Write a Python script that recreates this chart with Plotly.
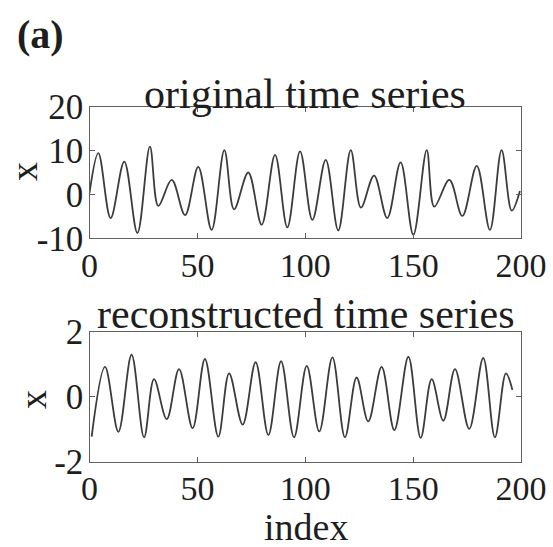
import plotly.graph_objects as go

W, H = 553, 547

# Original time series: turning points (index, value)
orig_index = [0, 4.1, 9.8, 16.1, 22.2, 28.0, 31.9, 38.1, 44.3, 50.4, 56.6, 62.5,
              67.0, 73.6, 79.8, 86.0, 91.7, 97.6, 103.3, 109.5, 115.3, 121.1,
              125.8, 131.9, 138.0, 144.2, 150.1, 156.3, 159.8, 166.8, 172.8,
              179.5, 185.6, 191.0, 195.7, 199.5]
orig_x = [0.3, 9.4, -5.4, 7.5, -8.8, 10.9, -2.6, 3.3, -4.7, 6.3, -8.1, 10.1,
          -3.4, 5.0, -6.9, 9.0, -7.5, 9.8, -5.8, 7.9, -8.2, 10.1,
          -3.0, 4.3, -5.4, 7.3, -9.2, 10.1, -2.8, 3.3, -4.9,
          6.5, -8.1, 10.1, -3.7, 0.8]

# Reconstructed time series: turning points (index, value)
recon_index = [1.0, 7.2, 13.4, 19.5, 25.3, 29.9, 35.8, 41.5, 47.8, 53.5, 59.7,
               64.7, 71.0, 77.0, 82.9, 88.8, 94.8, 100.7, 106.5, 112.6, 118.4,
               123.8, 129.2, 135.4, 141.3, 147.8, 153.5, 158.6, 164.0, 169.4,
               176.0, 182.5, 187.9, 193.0, 196.0]
recon_x = [-1.23, 0.92, -1.08, 1.29, -1.25, 0.54, -0.69, 0.85, -0.97, 1.16, -1.23,
           0.72, -0.86, 1.06, -1.18, 1.09, -1.25, 0.95, -1.07, 1.21, -1.25,
           0.59, -0.76, 0.92, -1.03, 1.23, -1.27, 0.54, -0.74, 0.85,
           -0.99, 1.19, -1.25, 0.72, 0.21]

x_ticks = [0, 50, 100, 150, 200]
x_tick_text = ["0", "50", "100", "150", "200"]
orig_y_ticks = [-10, 0, 10, 20]
orig_y_text = ["-10", "0", "10", "20"]
recon_y_ticks = [-2, 0, 2]
recon_y_text = ["-2", "0", "2"]

FONT = "Liberation Serif"
TEXT = "#1e1e1e"
LINE = "#3c3c3c"
FRAME = "#606060"


def px_x(p):
    return p / W


def px_y(p):
    return 1 - p / H


fig = go.Figure()
fig.add_trace(go.Scatter(x=orig_index, y=orig_x, mode="lines",
                         line=dict(color=LINE, width=1.8, shape="spline", smoothing=1.0),
                         xaxis="x", yaxis="y", showlegend=False))
fig.add_trace(go.Scatter(x=recon_index, y=recon_x, mode="lines",
                         line=dict(color=LINE, width=1.8, shape="spline", smoothing=1.0),
                         xaxis="x2", yaxis="y2", showlegend=False))

axis_common = dict(showline=True, mirror="ticks", ticks="inside", ticklen=5,
                   tickcolor=FRAME, linecolor=FRAME, linewidth=1.3,
                   showgrid=False, zeroline=False, automargin=False)
xfont = dict(family=FONT, size=34, color=TEXT)
yfont = dict(family=FONT, size=35, color=TEXT)

xdom = [px_x(89.5), px_x(521)]
fig.update_layout(
    template="none",
    width=W, height=H,
    margin=dict(l=0, r=0, t=0, b=0, pad=0),
    paper_bgcolor="white", plot_bgcolor="white",
    xaxis=dict(domain=xdom, range=[0, 200], tickvals=x_ticks, ticktext=x_tick_text,
               anchor="y", ticklabelstandoff=-3, tickfont=xfont, **axis_common),
    yaxis=dict(domain=[px_y(238.3), px_y(106.7)], range=[-10, 20],
               tickvals=orig_y_ticks, ticktext=orig_y_text, anchor="x",
               ticklabelstandoff=-2, tickfont=yfont, **axis_common),
    xaxis2=dict(domain=xdom, range=[0, 200], tickvals=x_ticks, ticktext=x_tick_text,
                anchor="y2", ticklabelstandoff=-4, tickfont=xfont, **axis_common),
    yaxis2=dict(domain=[px_y(461.7), px_y(331.7)], range=[-2, 2],
                tickvals=recon_y_ticks, ticktext=recon_y_text, anchor="x2",
                ticklabelstandoff=-2, tickfont=yfont, **axis_common),
)


def label(text, cx, cy, size, angle=0):
    fig.add_annotation(text=text, x=px_x(cx), y=px_y(cy), xref="paper", yref="paper",
                       xanchor="center", yanchor="middle", showarrow=False,
                       textangle=angle, font=dict(family=FONT, size=size, color=TEXT))


label("<b>(a)</b>", 40, 34, 40)
label("original time series", 305, 94, 42)
label("reconstructed time series", 306, 314, 42)
label("index", 306, 527, 38)
label("x", 24, 172, 38, angle=-90)
label("x", 33, 400, 38, angle=-90)

fig.write_html("out.html")
